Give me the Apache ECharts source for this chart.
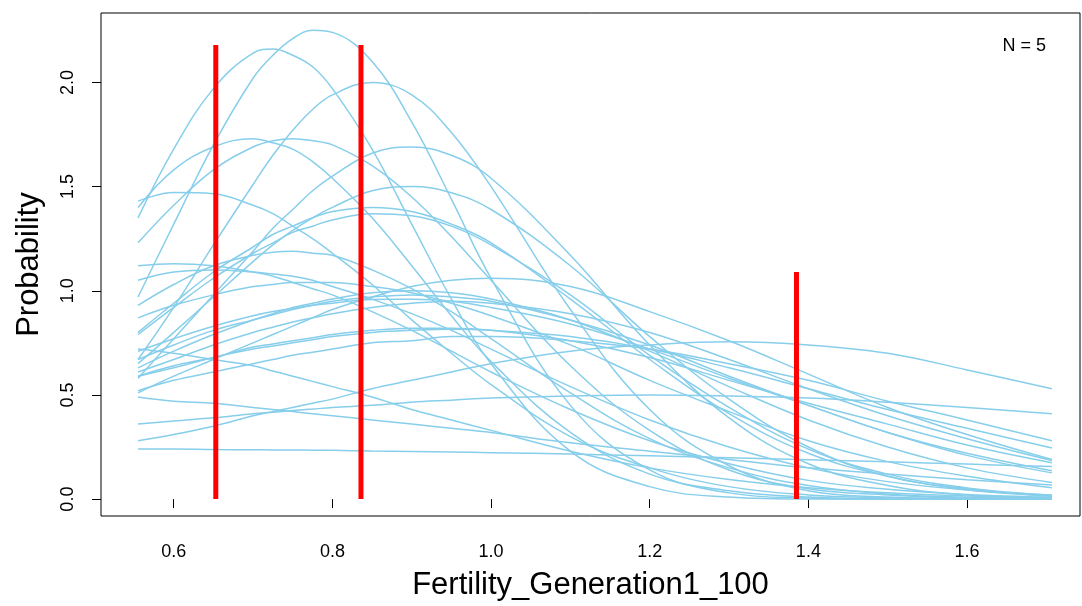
<!DOCTYPE html>
<html>
<head>
<meta charset="utf-8">
<script src="https://cdn.jsdelivr.net/npm/echarts@6/dist/echarts.min.js"></script>
<style>html,body{margin:0;padding:0;background:#fff}#chart{width:1082px;height:606px}</style>
</head>
<body>
<div id="chart"></div>
<script>
// x positions at which each density curve was read
const xs = [0.555, 0.6, 0.65, 0.7, 0.725, 0.75, 0.775, 0.8, 0.85, 0.9, 0.95, 1.0, 1.1, 1.2, 1.3, 1.4, 1.5, 1.6, 1.707];
// curve values (probability) read at xs
const c01 = [0.97,1.32,1.70,2.02,2.13,2.21,2.25,2.24,2.10,1.81,1.44,1.06,0.45,0.14,0.03,0.005,0,0,0];
const c02 = [1.35,1.68,1.97,2.14,2.16,2.13,2.075,1.97,1.68,1.32,0.96,0.65,0.23,0.06,0.01,0,0,0,0];
const c03 = [1.43,1.471,1.466,1.41,1.37,1.31,1.25,1.18,1.03,0.86,0.70,0.55,0.30,0.15,0.06,0.02,0.007,0.002,0];
const c04 = [1.40,1.58,1.69,1.73,1.71,1.68,1.62,1.54,1.35,1.12,0.88,0.66,0.32,0.12,0.04,0.01,0,0,0];
const c05 = [1.23,1.41,1.58,1.69,1.72,1.73,1.72,1.70,1.60,1.45,1.26,1.05,0.64,0.33,0.14,0.05,0.02,0.004,0];
const c06 = [0.67,0.92,1.22,1.51,1.65,1.77,1.87,1.94,2.0,1.94,1.76,1.50,0.91,0.43,0.16,0.04,0.01,0,0];
const c07 = [0.58,0.77,0.98,1.19,1.30,1.39,1.48,1.55,1.66,1.69,1.65,1.54,1.17,0.74,0.39,0.17,0.065,0.02,0.005];
const c08 = [0.65,0.80,0.97,1.14,1.22,1.29,1.35,1.40,1.48,1.50,1.47,1.39,1.12,0.78,0.48,0.25,0.11,0.05,0.014];
const c09 = [0.80,0.94,1.09,1.21,1.27,1.31,1.35,1.38,1.40,1.38,1.32,1.23,0.96,0.67,0.41,0.22,0.11,0.045,0.015];
const c10 = [0.79,0.92,1.06,1.18,1.23,1.28,1.31,1.34,1.37,1.36,1.31,1.22,0.98,0.69,0.44,0.24,0.12,0.054,0.019];
const c11 = [0.93,1.03,1.12,1.17,1.185,1.19,1.18,1.17,1.10,1.01,0.90,0.77,0.51,0.29,0.15,0.065,0.025,0.009,0.002];
const c12 = [1.12,1.13,1.12,1.09,1.07,1.04,1.01,0.98,0.90,0.81,0.71,0.61,0.43,0.28,0.17,0.09,0.047,0.022,0.009];
const c13 = [1.05,1.09,1.10,1.09,1.08,1.07,1.05,1.02,0.96,0.89,0.81,0.72,0.54,0.38,0.25,0.15,0.084,0.044,0.02];
const c14 = [0.51,0.59,0.67,0.75,0.79,0.83,0.87,0.91,0.97,1.02,1.05,1.06,1.02,0.90,0.76,0.60,0.44,0.31,0.19];
const c15 = [0.87,0.93,0.98,1.02,1.03,1.04,1.04,1.04,1.02,0.99,0.94,0.88,0.74,0.57,0.42,0.28,0.18,0.11,0.055];
const c16 = [0.28,0.31,0.35,0.40,0.42,0.44,0.46,0.48,0.53,0.57,0.61,0.65,0.71,0.74,0.755,0.74,0.70,0.62,0.53];
const c17 = [0.36,0.375,0.39,0.41,0.417,0.425,0.432,0.44,0.45,0.465,0.475,0.485,0.495,0.50,0.495,0.485,0.465,0.44,0.41];
const c18 = [0.24,0.24,0.238,0.237,0.236,0.236,0.235,0.234,0.231,0.229,0.226,0.223,0.216,0.208,0.199,0.189,0.179,0.168,0.156];
const c19 = [0.52,0.57,0.61,0.65,0.67,0.69,0.705,0.72,0.75,0.76,0.78,0.78,0.76,0.72,0.65,0.57,0.47,0.38,0.28];
const c20 = [0.59,0.63,0.68,0.72,0.735,0.75,0.765,0.78,0.80,0.81,0.815,0.81,0.78,0.72,0.63,0.53,0.43,0.34,0.245];
const c21 = [0.59,0.64,0.68,0.73,0.745,0.76,0.775,0.79,0.81,0.82,0.82,0.81,0.76,0.68,0.57,0.46,0.36,0.26,0.175];
const c22 = [0.61,0.67,0.74,0.80,0.825,0.85,0.87,0.89,0.92,0.94,0.95,0.94,0.89,0.80,0.67,0.53,0.40,0.29,0.185];
const c23 = [0.71,0.77,0.83,0.88,0.90,0.915,0.93,0.94,0.958,0.959,0.95,0.92,0.84,0.72,0.58,0.45,0.32,0.22,0.136];
const c24 = [0.67,0.74,0.81,0.86,0.885,0.91,0.93,0.95,0.97,0.98,0.97,0.95,0.86,0.74,0.59,0.45,0.32,0.21,0.126];
const c25 = [0.63,0.71,0.79,0.86,0.89,0.92,0.94,0.96,0.99,1.0,0.99,0.96,0.86,0.71,0.54,0.38,0.25,0.15,0.08];
const c26 = [0.72,0.70,0.67,0.64,0.615,0.59,0.565,0.54,0.49,0.43,0.38,0.33,0.23,0.15,0.094,0.055,0.03,0.015,0.007];
const c27 = [0.49,0.47,0.46,0.44,0.43,0.42,0.41,0.40,0.38,0.36,0.34,0.32,0.27,0.23,0.19,0.15,0.12,0.093,0.068];
// red reference lines
const redX = [0.653, 0.836, 1.385];
const redTop = [2.18, 2.18, 1.09];
// axis tick labels
const xTicks = [0.6, 0.8, 1.0, 1.2, 1.4, 1.6];
const yTicks = [0, 0.5, 1.0, 1.5, 2.0];
const noteText = 'N = 5';

const curves = [c01,c02,c03,c04,c05,c06,c07,c08,c09,c10,c11,c12,c13,c14,c15,c16,c17,c18,c19,c20,c21,c22,c23,c24,c25,c26,c27];
const FONT = '"Liberation Sans", Arial, Helvetica, sans-serif';

const series = curves.map((vals, i) => ({
  type: 'line',
  name: 'curve' + (i + 1),
  data: xs.map((x, j) => [x, vals[j]]),
  smooth: 0.4,
  showSymbol: false,
  silent: true,
  lineStyle: { color: '#87CEEB', width: 1.5 },
  z: 2
}));
redX.forEach((x, i) => {
  series.push({
    type: 'line',
    name: 'ref' + (i + 1),
    data: [[x, 0], [x, redTop[i]]],
    showSymbol: false,
    silent: true,
    lineStyle: { color: '#FF0000', width: 5, cap: 'butt' },
    z: 5
  });
});

const chart = echarts.init(document.getElementById('chart'), null, { renderer: 'canvas' });
chart.setOption({
  animation: false,
  backgroundColor: '#ffffff',
  textStyle: { fontFamily: FONT },
  grid: {
    left: 101, right: 2, top: 13, bottom: 86,
    show: true, borderColor: '#000', borderWidth: 1, backgroundColor: 'transparent'
  },
  xAxis: {
    type: 'value', min: 0.5083, max: 1.7424,
    name: 'Fertility_Generation1_100', nameLocation: 'middle', nameGap: 54,
    nameTextStyle: { fontSize: 31, color: '#000', fontFamily: FONT },
    axisLine: { show: false },
    axisTick: { show: true, customValues: xTicks, length: 9, lineStyle: { color: '#000', width: 1 } },
    axisLabel: { customValues: xTicks, formatter: v => v.toFixed(1), fontSize: 18, color: '#000', margin: 27, fontFamily: FONT },
    splitLine: { show: false }
  },
  yAxis: {
    type: 'value', min: -0.081, max: 2.333,
    name: 'Probability', nameLocation: 'middle', nameGap: 56, nameRotate: 90,
    nameTextStyle: { fontSize: 31, color: '#000', fontFamily: FONT },
    axisLine: { show: false },
    axisTick: { show: true, customValues: yTicks, length: 9, lineStyle: { color: '#000', width: 1 } },
    axisLabel: { customValues: yTicks, formatter: v => v.toFixed(1), fontSize: 18, color: '#000', margin: 24, rotate: 90, fontFamily: FONT },
    splitLine: { show: false }
  },
  graphic: [{
    type: 'text', right: 36, top: 37,
    style: { text: noteText, fontSize: 18, fill: '#000', fontFamily: FONT }
  }],
  series: series
});
</script>
</body>
</html>
